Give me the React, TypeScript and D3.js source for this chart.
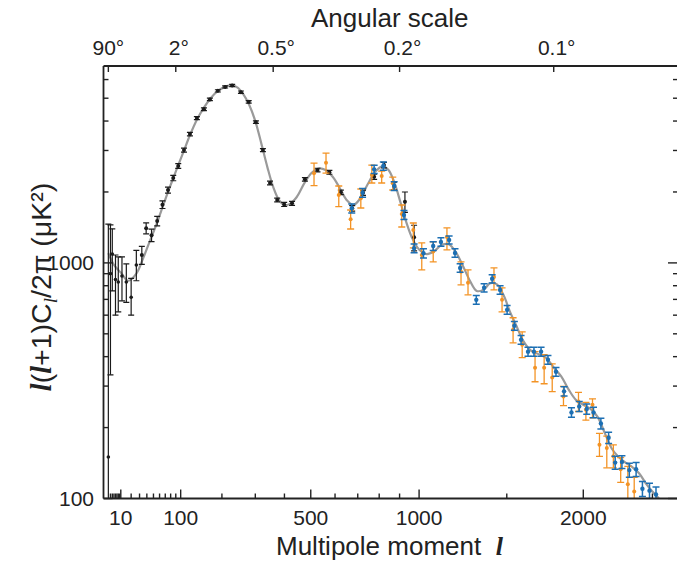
import React from 'react';
import * as d3 from 'd3';

// ---------- data ----------
// Theory (best-fit) curve knots: multipole l, D_l in µK^2
const theoryL = [2, 5, 10, 17, 26, 35, 45, 55, 65, 75, 85, 95, 107, 120, 136, 153, 170, 190, 210, 228, 245, 262, 280, 300, 320, 340, 360, 380, 400, 420, 445, 475, 505, 535, 560, 590, 620, 650, 680, 710, 745, 780, 815, 845, 875, 905, 935, 965, 1000, 1040, 1080, 1120, 1160, 1200, 1240, 1280, 1320, 1360, 1400, 1440, 1480, 1520, 1560, 1600, 1650, 1700, 1750, 1800, 1850, 1900, 1950, 2000, 2050, 2100, 2150, 2200, 2250, 2300, 2350, 2400, 2450, 2500, 2550];
const theoryD = [1100, 980, 910, 840, 900, 1050, 1250, 1460, 1720, 2000, 2290, 2600, 3000, 3480, 4050, 4560, 5000, 5380, 5600, 5670, 5550, 5200, 4700, 4000, 3200, 2550, 2100, 1850, 1760, 1780, 1900, 2180, 2420, 2520, 2480, 2320, 2080, 1850, 1760, 1870, 2150, 2430, 2570, 2480, 2180, 1800, 1480, 1270, 1140, 1090, 1120, 1190, 1200, 1110, 970, 840, 760, 770, 820, 810, 730, 620, 540, 470, 425, 410, 395, 360, 330, 290, 262, 250, 240, 222, 190, 163, 150, 142, 136, 128, 116, 107, 100];

// Black points, low multipoles (asymmetric errors)
const planckLowL = [2, 3, 4, 6, 8, 11, 15, 20, 26];
const planckLowD = [150, 900, 1090, 850, 830, 880, 830, 715, 980];
const planckLowLo = [20, 335, 760, 600, 620, 690, 680, 600, 840];
const planckLowHi = [1460, 1450, 1395, 1080, 1060, 1060, 990, 860, 1130];

// Black points, binned
const planckL = [33, 39, 47, 56, 65, 75, 85, 95, 107, 120, 136, 153, 168, 189, 209, 229, 255, 279, 302, 325, 349, 374, 399, 428, 477, 527, 576, 625, 675, 724, 776, 823, 872, 927, 974];
const planckD = [1081, 1403, 1310, 1506, 1767, 2039, 2292, 2577, 3011, 3521, 4116, 4492, 4940, 5372, 5585, 5662, 5304, 4826, 3957, 3011, 2183, 1850, 1770, 1790, 2263, 2477, 2423, 1993, 1705, 1986, 2321, 2602, 2120, 1819, 1285];
const planckErr = [95, 75, 80, 70, 65, 60, 60, 60, 60, 60, 60, 60, 60, 60, 60, 60, 60, 60, 50, 45, 40, 35, 35, 35, 40, 45, 45, 45, 45, 50, 60, 70, 80, 180, 160];

// Orange points
const sptL = [513, 562, 616, 668, 714, 765, 812, 866, 911, 970, 1014, 1075, 1150, 1229, 1269, 1422, 1471, 1539, 1596, 1678, 1737, 1790, 1865, 1967, 2018, 2064, 2113, 2165, 2212, 2265, 2317, 2364];
const sptD = [2399, 2661, 1942, 1532, 1880, 2360, 2337, 2176, 1613, 1380, 1081, 1117, 1289, 916, 823, 872, 697, 520, 449, 359, 359, 326, 271, 258, 238, 250, 169, 164, 151, 133, 115, 107];
const sptLo = [2126, 2406, 1732, 1393, 1710, 2183, 2183, 2039, 1420, 1157, 934, 1010, 1135, 807, 732, 768, 620, 458, 396, 313, 307, 284, 248, 234, 215, 220, 151, 135, 135, 117, 99, 95];
const sptHi = [2652, 2925, 2120, 1677, 2059, 2602, 2454, 2314, 1761, 1477, 1215, 1227, 1407, 1010, 934, 952, 784, 585, 510, 420, 408, 373, 299, 282, 256, 265, 189, 184, 169, 149, 137, 123];

// Blue points
const actL = [673, 722, 776, 820, 873, 922, 974, 1023, 1075, 1117, 1162, 1195, 1224, 1317, 1363, 1411, 1459, 1502, 1547, 1589, 1633, 1671, 1717, 1762, 1815, 1869, 1919, 1972, 2024, 2071, 2123, 2178, 2225, 2274, 2328, 2378, 2425, 2478, 2527];
const actD = [1705, 1986, 2495, 2577, 2120, 1597, 1154, 1099, 1180, 1227, 1252, 1102, 952, 697, 784, 856, 768, 632, 541, 472, 420, 420, 420, 388, 345, 285, 232, 246, 240, 232, 208, 181, 142, 143, 132, 133, 110, 108, 104];
const actErr = [75, 85, 100, 105, 90, 70, 50, 50, 50, 50, 50, 45, 40, 30, 32, 35, 32, 27, 23, 20, 18, 18, 18, 17, 15, 13, 11, 12, 12, 12, 11, 10, 9, 9, 9, 9, 8, 8, 8];

// Axis ticks
const xMajor = [10, 100, 500, 1000, 2000];
const xMinor = [3, 4, 5, 6, 7, 8, 9, 20, 30, 40, 50, 60, 70, 80, 90, 200, 300, 400, 600, 700, 800, 900, 1500, 2500];
const yMajor = [100, 1000];
const yMinor = [200, 300, 400, 500, 600, 700, 800, 900, 2000, 3000, 4000, 5000, 6000];
const topAngles = [90, 2, 0.5, 0.2, 0.1];
const topLabels = ['90°', '2°', '0.5°', '0.2°', '0.1°'];

// ---------- layout ----------
const W = 677, H = 561;
const plotLeft = 103.5, plotRight = 678, plotTop = 66, plotBottom = 498.5;
const FONT = '"Liberation Sans", Arial, Helvetica, sans-serif';
const ORANGE = '#f39325';
const BLUE = '#1c6fb3';
const BLACK = '#1a1a1a';

const x = d3.scalePow().exponent(0.6).domain([0, 2700]).range([100.7, 678.5]);
const y = d3.scaleLog().domain([100, 6850]).range([plotBottom, plotTop]);

type Pt = { l: number; d: number; lo: number; hi: number };

function ErrPoints({ pts, color, cap, r, sw }: { pts: Pt[]; color: string; cap: number; r: number; sw: number }) {
  return (
    <g>
      {pts.map((p, i) => {
        const cx = x(p.l);
        const y1 = y(Math.max(p.lo, 60));
        const y2 = y(p.hi);
        return (
          <g key={i} stroke={color} strokeWidth={sw} fill={color}>
            <line x1={cx} x2={cx} y1={y1} y2={y2} />
            <line x1={cx - cap} x2={cx + cap} y1={y1} y2={y1} />
            <line x1={cx - cap} x2={cx + cap} y1={y2} y2={y2} />
            <circle cx={cx} cy={y(p.d)} r={r} stroke="none" />
          </g>
        );
      })}
    </g>
  );
}

export default function App() {
  const theory = theoryL.map((l, i) => [x(l), y(theoryD[i])] as [number, number]);
  const linePath = d3.line().curve(d3.curveCatmullRom.alpha(0.5))(theory) || '';

  const lowPts: Pt[] = planckLowL.map((l, i) => ({ l, d: planckLowD[i], lo: planckLowLo[i], hi: planckLowHi[i] }));
  const binPts: Pt[] = planckL.map((l, i) => ({ l, d: planckD[i], lo: planckD[i] - planckErr[i], hi: planckD[i] + planckErr[i] }));
  const orangePts: Pt[] = sptL.map((l, i) => ({ l, d: sptD[i], lo: sptLo[i], hi: sptHi[i] }));
  const bluePts: Pt[] = actL.map((l, i) => ({ l, d: actD[i], lo: actD[i] - actErr[i], hi: actD[i] + actErr[i] }));

  return (
    <svg width={W} height={H} style={{ position: 'absolute', left: 0, top: 0, background: '#fff' }} fontFamily={FONT}>
      <defs>
        <clipPath id="plotclip">
          <rect x={plotLeft} y={plotTop} width={plotRight - plotLeft} height={plotBottom - plotTop} />
        </clipPath>
      </defs>
      <rect x={0} y={0} width={W} height={H} fill="#fff" />

      <g clipPath="url(#plotclip)">
        <path d={linePath} fill="none" stroke="#9a9a9a" strokeWidth={2.2} />
        <ErrPoints pts={lowPts} color={BLACK} cap={3} r={1.8} sw={1.2} />
        <ErrPoints pts={binPts} color={BLACK} cap={3} r={2} sw={1.2} />
        <ErrPoints pts={orangePts} color={ORANGE} cap={3.5} r={2} sw={1.3} />
        <ErrPoints pts={bluePts} color={BLUE} cap={3.5} r={2.2} sw={1.5} />
      </g>

      {/* frame */}
      <g stroke="#222" strokeWidth={1.8} fill="none">
        <line x1={plotLeft} x2={plotRight} y1={plotTop} y2={plotTop} />
        <line x1={plotLeft} x2={plotRight} y1={plotBottom} y2={plotBottom} />
        <line x1={plotLeft} x2={plotLeft} y1={plotTop} y2={plotBottom} />
        <line x1={plotRight} x2={plotRight} y1={plotTop} y2={plotBottom} />
      </g>

      {/* bottom ticks */}
      <g stroke="#222" strokeWidth={1.4}>
        {xMajor.map((t) => <line key={'M' + t} x1={x(t)} x2={x(t)} y1={plotBottom} y2={plotBottom - 9} />)}
        {xMinor.map((t) => <line key={'m' + t} x1={x(t)} x2={x(t)} y1={plotBottom} y2={plotBottom - 5} />)}
      </g>
      <g fontSize={21} fill="#222" textAnchor="middle">
        {xMajor.map((t) => <text key={t} x={x(t)} y={525}>{t}</text>)}
      </g>

      {/* top ticks */}
      <g stroke="#222" strokeWidth={1.4}>
        {topAngles.map((a) => <line key={a} x1={x(180 / a)} x2={x(180 / a)} y1={plotTop} y2={plotTop + 6} />)}
      </g>
      <g fontSize={21} fill="#222" textAnchor="middle">
        {topAngles.map((a, i) => <text key={a} x={x(180 / a) + (i === 0 ? 0 : 3)} y={55}>{topLabels[i]}</text>)}
      </g>

      {/* left and right ticks */}
      <g stroke="#222" strokeWidth={1.4}>
        {yMajor.map((t) => <line key={'L' + t} x1={plotLeft} x2={plotLeft + 9} y1={y(t)} y2={y(t)} />)}
        {yMinor.map((t) => <line key={'l' + t} x1={plotLeft} x2={plotLeft + 5} y1={y(t)} y2={y(t)} />)}
        {yMajor.map((t) => <line key={'R' + t} x1={plotRight} x2={plotRight - 10} y1={y(t)} y2={y(t)} />)}
        {yMinor.map((t) => <line key={'r' + t} x1={plotRight} x2={plotRight - 5} y1={y(t)} y2={y(t)} />)}
      </g>
      <g fontSize={21} fill="#222" textAnchor="end">
        {yMajor.map((t) => <text key={t} x={94} y={y(t) + 7.5}>{t}</text>)}
      </g>

      {/* titles */}
      <text x={311} y={27} fontSize={26} fill="#222">Angular scale</text>
      <text x={276} y={555} fontSize={26} fill="#222">
        Multipole moment{'\u00A0\u00A0'}
        <tspan fontFamily='"Liberation Serif", serif' fontStyle="italic" fontWeight="bold">l</tspan>
      </text>
      <text transform="translate(51,287) rotate(-90)" fontSize={28.5} fill="#222" textAnchor="middle">
        <tspan fontFamily='"Liberation Serif", serif' fontStyle="italic" fontWeight="bold">l</tspan>
        <tspan>(</tspan>
        <tspan fontFamily='"Liberation Serif", serif' fontStyle="italic" fontWeight="bold">l</tspan>
        <tspan>+1)C</tspan>
        <tspan fontFamily='"Liberation Serif", serif' fontStyle="italic" fontSize={19} dy={6}>l</tspan>
        <tspan dy={-6}>/2π (μK²)</tspan>
      </text>
    </svg>
  );
}
